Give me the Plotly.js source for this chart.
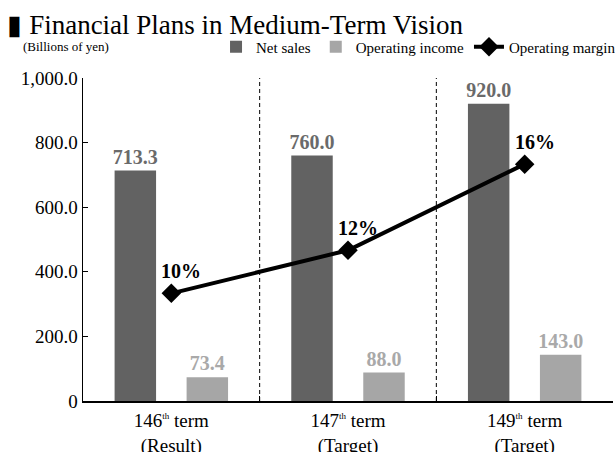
<!DOCTYPE html>
<html>
<head>
<meta charset="utf-8">
<script src="https://cdn.plot.ly/plotly-3.0.1.min.js"></script>
<style>html,body{margin:0;padding:0;background:#fff;}#chart{width:615px;height:452px;}</style>
</head>
<body>
<div id="chart"></div>
<script>
const categories = [
  '146<sup><span style="font-size:9px">th</span></sup> term<br>(Result)',
  '147<sup><span style="font-size:9px">th</span></sup> term<br>(Target)',
  '149<sup><span style="font-size:9px">th</span></sup> term<br>(Target)'
];
const netSales = [713.3, 760.0, 920.0];
const operatingIncome = [73.4, 88.0, 143.0];
const operatingMargin = [10, 12, 16];
const yTickVals = [0, 200, 400, 600, 800, 1000];
const yTickText = ['0', '200.0', '400.0', '600.0', '800.0', '1,000.0'];
const marginRange = [5, 20];

const FONT = 'Liberation Serif, Times New Roman, serif';

const traces = [
  {
    type: 'bar', name: 'Net sales', x: categories, y: netSales,
    marker: {color: '#626262'},
    texttemplate: '%{y:.1f}', textposition: 'outside', cliponaxis: false, constraintext: 'none',
    textfont: {family: FONT, size: 20, color: '#6a6a6a', weight: 'bold'}
  },
  {
    type: 'bar', name: 'Operating income', x: categories, y: operatingIncome,
    marker: {color: '#a6a6a6'},
    texttemplate: '%{y:.1f}', textposition: 'outside', cliponaxis: false, constraintext: 'none',
    textfont: {family: FONT, size: 20, color: '#a9a9a9', weight: 'bold'}
  },
  {
    type: 'scatter', mode: 'lines+markers', name: 'Operating margin',
    x: categories, y: operatingMargin, yaxis: 'y2',
    line: {color: '#000', width: 4},
    marker: {symbol: 'diamond', size: 15, color: '#000'},
    cliponaxis: false
  }
];

const shapes = [];
for (let i = 1; i < categories.length; i++) {
  shapes.push({type: 'line', xref: 'x', yref: 'y', x0: i - 0.5, x1: i - 0.5, y0: 0, y1: 1000,
    line: {color: '#000', width: 1, dash: '4px,3px'}});
}

const annotations = operatingMargin.map((v, i) => ({
  x: categories[i], y: v, xref: 'x', yref: 'y2', text: v + '%', showarrow: false,
  xshift: 10, yshift: 22, font: {family: FONT, size: 20, color: '#000', weight: 'bold'}
}));
annotations.push({
  xref: 'paper', yref: 'paper', x: -0.117, y: 1.096, xanchor: 'left', yanchor: 'middle',
  text: '(Billions of yen)', showarrow: false, font: {family: FONT, size: 13, color: '#000'}
});

const layout = {
  width: 615, height: 452,
  paper_bgcolor: '#fff', plot_bgcolor: '#fff',
  margin: {l: 83, r: 2, t: 78, b: 51, autoexpand: false},
  font: {family: FONT, color: '#000'},
  title: {text: '▮ Financial Plans in Medium-Term Vision', font: {family: FONT, size: 27, color: '#000'},
    x: 0.012, xref: 'container', xanchor: 'left', y: 0.945, yref: 'container', yanchor: 'middle'},
  barmode: 'group', bargap: 0.185, bargroupgap: 0.424,
  showlegend: true,
  legend: {orientation: 'h', x: 0.251, xanchor: 'left', y: 1.096, yanchor: 'middle',
    font: {family: FONT, size: 15, color: '#000'}, bgcolor: 'rgba(0,0,0,0)', traceorder: 'normal'},
  xaxis: {type: 'category', range: [-0.5, 2.5], showline: true, linecolor: '#000', linewidth: 1.5,
    ticks: 'inside', tickson: 'boundaries', ticklen: 5, tickcolor: '#000', showgrid: false, zeroline: false,
    ticklabelstandoff: 2,
    tickfont: {family: FONT, size: 19, color: '#000'}, fixedrange: true},
  yaxis: {range: [0, 1000], tickvals: yTickVals, ticktext: yTickText, showline: true, linecolor: '#000', linewidth: 1.5,
    ticks: 'inside', ticklen: 5, tickcolor: '#000', showgrid: false, zeroline: false,
    tickfont: {family: FONT, size: 19, color: '#000'}},
  yaxis2: {range: marginRange, overlaying: 'y', side: 'right', visible: false, showgrid: false, zeroline: false},
  shapes: shapes,
  annotations: annotations
};

Plotly.newPlot('chart', traces, layout, {displayModeBar: false, staticPlot: true});
</script>
</body>
</html>
